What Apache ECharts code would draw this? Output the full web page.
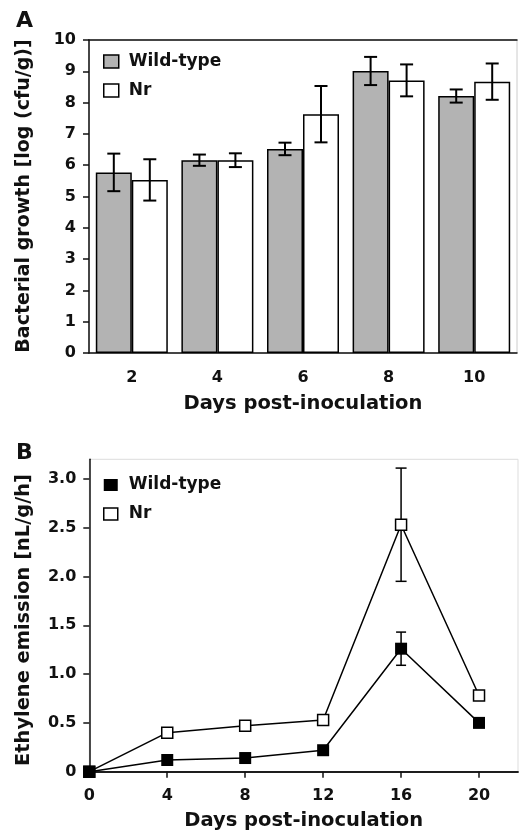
<!DOCTYPE html>
<html><head><meta charset="utf-8">
<script src="https://cdn.jsdelivr.net/npm/echarts@6/dist/echarts.min.js"></script>
<style>html,body{margin:0;padding:0;background:#fff}#c{width:519px;height:832px}</style>
</head><body><div id="c"></div>
<script>
// Panel A data
const daysA = ['2', '4', '6', '8', '10'];
const growthWT = [5.77, 6.16, 6.52, 9.01, 8.21];
const growthWTErr = [0.60, 0.18, 0.20, 0.45, 0.21];
const growthNr = [5.53, 6.16, 7.63, 8.71, 8.67];
const growthNrErr = [0.66, 0.22, 0.90, 0.51, 0.58];
const yTicksA = [0, 1, 2, 3, 4, 5, 6, 7, 8, 9, 10];

// Panel B data
const daysB = [0, 4, 8, 12, 16, 20];
const ethWT = [0, 0.12, 0.14, 0.22, 1.26, 0.50];
const ethWTErr = [0, 0, 0, 0, 0.17, 0];
const ethNr = [0, 0.40, 0.47, 0.53, 2.53, 0.78];
const ethNrErr = [0, 0, 0, 0, 0.58, 0];
const yTicksB = [0, 0.5, 1.0, 1.5, 2.0, 2.5, 3.0];
const xTicksB = [0, 4, 8, 12, 16, 20];

const FONT = 'DejaVu Sans';
const BAR_W = 36;
const axisCol = '#111';
const lbl = {fontFamily: FONT, fontWeight: 'bold', fontSize: 16, color: '#111'};

function errBar(offset, capHalf, lw) {
  return function (params, api) {
    const x0 = api.value(0), m = api.value(1), e = api.value(2);
    if (!e) return null;
    const hi = api.coord([x0, m + e]), lo = api.coord([x0, m - e]);
    const x = hi[0] + offset;
    const st = {stroke: '#000', lineWidth: lw};
    return {type: 'group', children: [
      {type: 'line', shape: {x1: x, y1: hi[1], x2: x, y2: lo[1]}, style: st},
      {type: 'line', shape: {x1: x - capHalf, y1: hi[1], x2: x + capHalf, y2: hi[1]}, style: st},
      {type: 'line', shape: {x1: x - capHalf, y1: lo[1], x2: x + capHalf, y2: lo[1]}, style: st}
    ]};
  };
}

const chart = echarts.init(document.getElementById('c'), null, {renderer: 'canvas'});
const option = {
  animation: false,
  backgroundColor: '#fff',
  grid: [
    {left: 89, right: 2, top: 40, height: 313, show: true, borderColor: '#ccc', borderWidth: 1},
    {left: 89.3, right: 1, top: 459.3, height: 312.4, show: true, borderColor: '#ddd', borderWidth: 1}
  ],
  legend: [
    {left: 103, top: 51.5, padding: 0, orient: 'vertical', itemWidth: 15, itemHeight: 13, itemGap: 9,
     formatter: n => n.split(':')[1],
     textStyle: {fontFamily: FONT, fontWeight: 'bold', fontSize: 17, color: '#111', lineHeight: 20, padding: [0, 0, 0, 5]},
     data: [
       {name: 'A:Wild-type', icon: 'rect', itemStyle: {color: '#b3b3b3', borderColor: '#000', borderWidth: 1.5}},
       {name: 'A:Nr', icon: 'rect', itemStyle: {color: '#fff', borderColor: '#000', borderWidth: 1.5}}
     ]},
    {left: 103, top: 475, padding: 0, orient: 'vertical', itemWidth: 14, itemHeight: 12, itemGap: 9,
     formatter: n => n.split(':')[1],
     textStyle: {fontFamily: FONT, fontWeight: 'bold', fontSize: 17, color: '#111', lineHeight: 20, padding: [0, 0, 0, 6]},
     data: [
       {name: 'B:Wild-type', icon: 'rect', itemStyle: {color: '#000', borderColor: '#000', borderWidth: 0}},
       {name: 'B:Nr', icon: 'rect', itemStyle: {color: '#fff', borderColor: '#000', borderWidth: 1.5}}
     ]}
  ],
  xAxis: [
    {gridIndex: 0, type: 'category', data: daysA, boundaryGap: true,
     axisLine: {lineStyle: {color: axisCol, width: 1.5}},
     axisTick: {alignWithLabel: true, length: 7, lineStyle: {color: axisCol, width: 1.5}},
     axisLabel: Object.assign({margin: 17}, lbl),
     name: 'Days post-inoculation', nameLocation: 'middle', nameGap: 41,
     nameTextStyle: {fontFamily: FONT, fontWeight: 'bold', fontSize: 19.5, color: '#111'}},
    {gridIndex: 0, type: 'category', data: daysA, position: 'top',
     axisLine: {lineStyle: {color: axisCol, width: 1.5}}, axisTick: {show: false}, axisLabel: {show: false}},
    {gridIndex: 1, type: 'value', min: 0, max: 22, interval: 4,
     axisLine: {onZero: false, lineStyle: {color: axisCol, width: 1.5}},
     axisTick: {length: 6, customValues: xTicksB, lineStyle: {color: axisCol, width: 1.5}},
     axisLabel: Object.assign({margin: 16, customValues: xTicksB}, lbl),
     splitLine: {show: false},
     name: 'Days post-inoculation', nameLocation: 'middle', nameGap: 39,
     nameTextStyle: {fontFamily: FONT, fontWeight: 'bold', fontSize: 19.5, color: '#111'}},
    {gridIndex: 1, type: 'value', min: 0, max: 22, position: 'top',
     axisLine: {show: true, lineStyle: {color: axisCol, width: 1.5}}, axisTick: {show: false},
     axisLabel: {show: false}, splitLine: {show: false}}
  ],
  yAxis: [
    {gridIndex: 0, type: 'value', min: 0, max: 10, interval: 1,
     axisLine: {show: true, lineStyle: {color: axisCol, width: 1.5}},
     axisTick: {show: true, length: 6, customValues: yTicksA, lineStyle: {color: axisCol, width: 1.5}},
     axisLabel: Object.assign({margin: 13, customValues: yTicksA}, lbl),
     splitLine: {show: false}},
    {gridIndex: 1, type: 'value', min: 0, max: 3.2, interval: 0.5,
     axisLine: {show: true, lineStyle: {color: axisCol, width: 1.5}},
     axisTick: {show: true, length: 6, customValues: yTicksB, lineStyle: {color: axisCol, width: 1.5}},
     axisLabel: Object.assign({margin: 13, customValues: yTicksB, formatter: v => v === 0 ? '0' : v.toFixed(1)}, lbl),
     splitLine: {show: false}}
  ],
  graphic: [
    {type: 'text', left: 16, top: 10, style: {text: 'A', fontFamily: FONT, fontWeight: 'bold', fontSize: 22, fill: '#111'}},
    {type: 'text', left: 16, top: 442, style: {text: 'B', fontFamily: FONT, fontWeight: 'bold', fontSize: 22, fill: '#111'}},
    {type: 'text', x: 24, y: 196, rotation: Math.PI / 2,
     style: {text: 'Bacterial growth [log (cfu/g)]', fontFamily: FONT, fontWeight: 'bold', fontSize: 19, fill: '#111', align: 'center', verticalAlign: 'middle'}},
    {type: 'text', x: 24, y: 620, rotation: Math.PI / 2,
     style: {text: 'Ethylene emission [nL/g/h]', fontFamily: FONT, fontWeight: 'bold', fontSize: 19.4, fill: '#111', align: 'center', verticalAlign: 'middle'}}
  ],
  series: [
    {name: 'A:Wild-type', type: 'bar', xAxisIndex: 0, yAxisIndex: 0, data: growthWT,
     barWidth: BAR_W, barGap: '0%', itemStyle: {color: '#b3b3b3', borderColor: '#000', borderWidth: 1.5}},
    {name: 'A:Nr', type: 'bar', xAxisIndex: 0, yAxisIndex: 0, data: growthNr,
     barWidth: BAR_W, barGap: '0%', itemStyle: {color: '#fff', borderColor: '#000', borderWidth: 1.5}},
    {type: 'custom', xAxisIndex: 0, yAxisIndex: 0, z: 5,
     data: growthWT.map((v, i) => [i, v, growthWTErr[i]]), renderItem: errBar(-BAR_W / 2, 6.5, 2)},
    {type: 'custom', xAxisIndex: 0, yAxisIndex: 0, z: 5,
     data: growthNr.map((v, i) => [i, v, growthNrErr[i]]), renderItem: errBar(BAR_W / 2, 6.5, 2)},
    {type: 'custom', xAxisIndex: 2, yAxisIndex: 1, z: 1,
     data: daysB.map((d, i) => [d, ethNr[i], ethNrErr[i]]), renderItem: errBar(0, 5.5, 1.5)},
    {type: 'custom', xAxisIndex: 2, yAxisIndex: 1, z: 1,
     data: daysB.map((d, i) => [d, ethWT[i], ethWTErr[i]]), renderItem: errBar(0, 5, 1.5)},
    {name: 'B:Nr', type: 'line', xAxisIndex: 2, yAxisIndex: 1, z: 3,
     data: daysB.map((d, i) => [d, ethNr[i]]), symbol: 'rect', symbolSize: 11,
     lineStyle: {color: '#000', width: 1.5},
     itemStyle: {color: '#fff', borderColor: '#000', borderWidth: 1.5}},
    {name: 'B:Wild-type', type: 'line', xAxisIndex: 2, yAxisIndex: 1, z: 4,
     data: daysB.map((d, i) => [d, ethWT[i]]), symbol: 'rect', symbolSize: 12,
     lineStyle: {color: '#000', width: 1.5},
     itemStyle: {color: '#000', borderColor: '#000', borderWidth: 0}}
  ]
};
chart.setOption(option);
</script></body></html>
